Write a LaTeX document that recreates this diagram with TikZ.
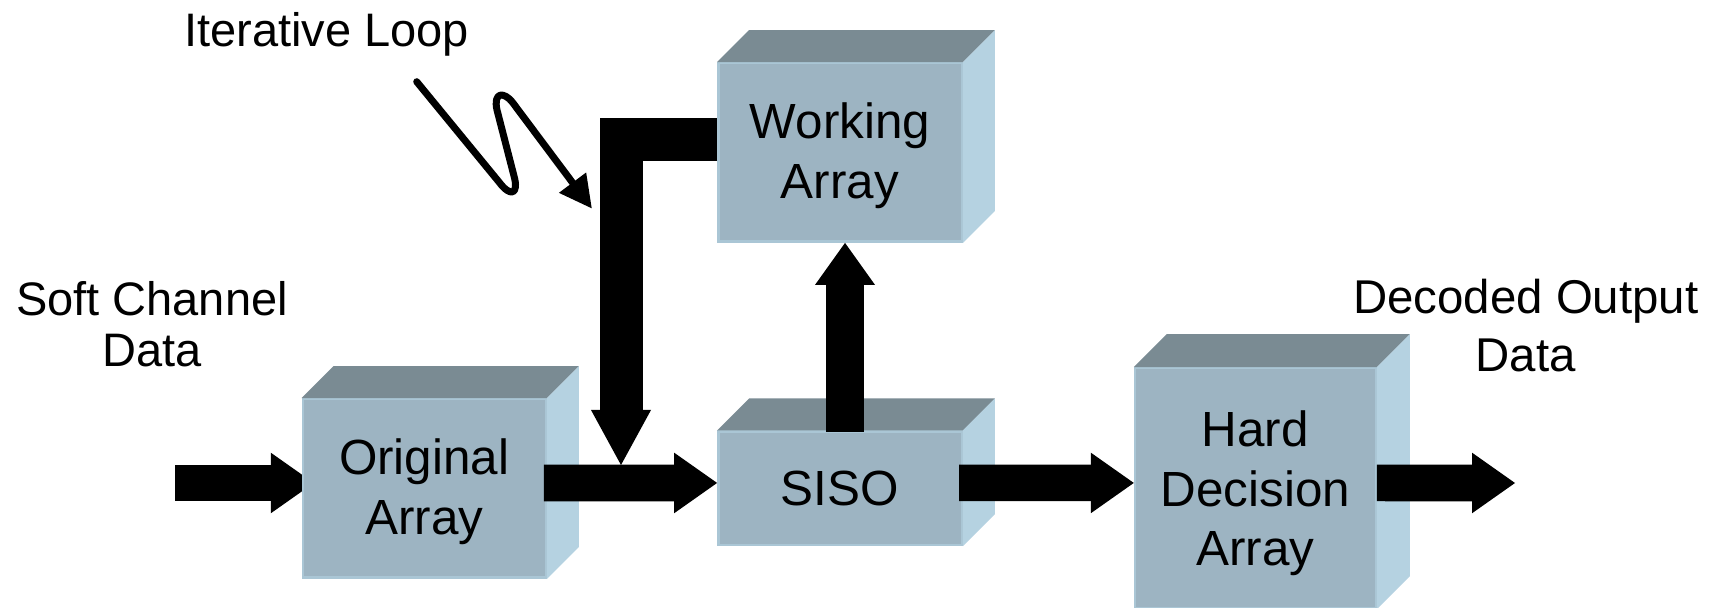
\documentclass[tikz,border=0pt]{standalone}
\usepackage{fontspec}
\setmainfont{Liberation Sans}
\usetikzlibrary{arrows.meta,calc}
\definecolor{frontc}{RGB}{157,180,194}
\definecolor{topc}{RGB}{122,139,147}
\definecolor{sidec}{RGB}{181,210,225}
\definecolor{edgec}{RGB}{170,198,213}
\pgfdeclarelayer{bg}
\pgfsetlayers{bg,main}
\newcommand\cubefaces[2]{%
  \fill[topc] (#1.north west) -- ++(#2,-#2) -- ($(#1.north east)+(#2,-#2)$) -- (#1.north east) -- cycle;
  \fill[sidec] (#1.north east) -- ++(#2,-#2) -- ($(#1.south east)+(#2,-#2)$) -- (#1.south east) -- cycle;}
\newcommand\topstrut[1]{\rule{0pt}{#1}}
\begin{document}
\begin{tikzpicture}[x=0.5pt,y=-0.5pt,
  face/.style={fill=frontc, draw=edgec, line width=1.2pt, inner sep=0pt, align=center,
    font=\fontsize{24.7}{29.8}\selectfont},
  lbl/.style={inner sep=0pt, align=center, font=\fontsize{23.5}{25.5}\selectfont},
  blk/.style={line width=18.3pt, -{Triangle[length=21.5pt,width=30.3pt,line width=0pt]}},
]
\useasboundingbox (0,0) rectangle (1725,608);

% boxes
\node[face, minimum width=121.5pt, minimum height=89.2pt] (orig) at (424.2,488.5) {\topstrut{21pt}Original\\Array};
\cubefaces{orig}{32}
\node[face, minimum width=121.7pt, minimum height=89.2pt] (work) at (840,152.5) {\topstrut{21pt}Working\\Array};
\cubefaces{work}{32}
\node[face, minimum width=121.7pt, minimum height=56.65pt] (siso) at (840,488.35) {SISO};
\cubefaces{siso}{32}
\node[face, minimum width=120.35pt, minimum height=119.85pt] (hard) at (1255.35,488.15) {\topstrut{23pt}Hard\\Decision\\Array};
\cubefaces{hard}{33}

% free ends
\coordinate (in) at (175,483);
\coordinate (out) at (1515,483);
\coordinate (j) at (621,465);

% block arrows
\begin{pgfonlayer}{bg}
\draw[blk, shorten >=-6.15pt] (in) -- ([yshift=2.75pt]orig.west);
\end{pgfonlayer}
\draw[blk] ([xshift=-1.5pt,yshift=2.75pt]orig.east) -- ([yshift=2.7pt]siso.west);
\draw[blk] ([xshift=-1.85pt,yshift=2.7pt]siso.east) -- ([yshift=2.6pt]hard.west);
\draw[blk] ([yshift=2.6pt]hard.east) -- (out);
\draw[blk, line width=18.7pt, -{Triangle[length=21pt,width=30pt,line width=0pt]}]
  ([xshift=2.5pt,yshift=-0.6pt]siso.north) -- ([xshift=2.5pt]work.south);
\draw[line width=21.5pt, -{Triangle[length=27.5pt,width=30pt,line width=0pt]}]
  ([yshift=6.65pt]work.west) -| (j);

% iterative loop squiggle
\coordinate (s0) at (416.7,81.7);
\coordinate (s1) at (591.7,208.3);
\draw[line width=3.5pt, line cap=round, line join=round,
  -{Triangle[length=16pt,width=17pt,line width=0pt]}]
  (s0) -- (499,182) .. controls (511,198) and (519,194) .. (514,176)
  -- (497,110) .. controls (493,92) and (504,91) .. (513,103) -- (s1);

% labels
\node[lbl, anchor=base west] (il) at (183.7,46.7) {Iterative Loop};
\node[lbl, anchor=base] (scd) at (152,366.5) {Soft Channel\\Data};
\node[lbl, anchor=base, font=\fontsize{23.7}{29}\selectfont] (dod) at (1525.8,372) {Decoded Output\\Data};
\end{tikzpicture}
\end{document}
